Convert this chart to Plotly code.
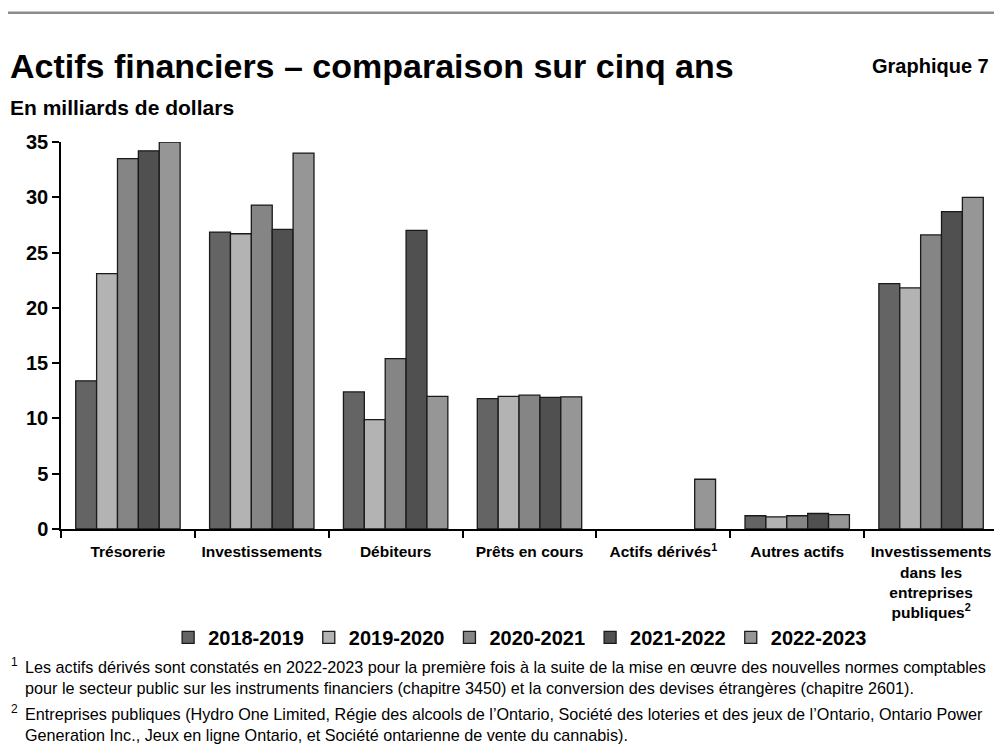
import plotly.graph_objects as go

# categories and values (billions of dollars)
categories = ["Trésorerie", "Investissements", "Débiteurs", "Prêts en cours",
              "Actifs dérivés<sup>1</sup>", "Autres actifs",
              "Investissements<br>dans les<br>entreprises<br>publiques<sup>2</sup>"]
years = ["2018-2019", "2019-2020", "2020-2021", "2021-2022", "2022-2023"]

v2018 = [13.4, 26.85, 12.4, 11.8, None, 1.2, 22.2]
v2019 = [23.1, 26.7, 9.9, 12.0, None, 1.1, 21.8]
v2020 = [33.5, 29.3, 15.4, 12.1, None, 1.2, 26.6]
v2021 = [34.2, 27.1, 27.0, 11.9, None, 1.4, 28.7]
v2022 = [35.0, 34.0, 12.0, 11.95, 4.5, 1.3, 30.0]
series = [v2018, v2019, v2020, v2021, v2022]
colors = ["#646464", "#b3b3b3", "#858585", "#505050", "#969696"]

FONT = "Liberation Sans, Arial, sans-serif"

fig = go.Figure()
for name, vals, col in zip(years, series, colors):
    fig.add_trace(go.Bar(
        x=categories, y=vals, name=name,
        marker=dict(color=col, line=dict(color="#1a1a1a", width=1.3)),
    ))

fig.update_layout(
    width=994, height=746,
    margin=dict(l=53, r=4, t=134, b=225),
    paper_bgcolor="white", plot_bgcolor="white",
    barmode="group", bargap=0.22, bargroupgap=0,
    font=dict(family=FONT, color="black"),
    showlegend=True,
    legend=dict(orientation="h", x=0.49, xanchor="center", y=-0.28, yanchor="middle",
                font=dict(size=20, family=FONT, weight="bold"),
                itemwidth=30, traceorder="normal"),
)
fig.update_xaxes(
    type="category", tickson="boundaries", ticks="outside", ticklen=7,
    tickcolor="black", tickwidth=1.5, ticklabelstandoff=8,
    showline=True, linecolor="black", linewidth=1.5,
    tickfont=dict(size=15.5, family=FONT, weight="bold"),
    range=[-0.5, 6.5],
)
fig.update_yaxes(
    range=[0, 35], dtick=5, ticks="outside", ticklen=7, tickcolor="black", tickwidth=1.5,
    showline=True, linecolor="black", linewidth=1.5, showgrid=False, zeroline=False,
    tickfont=dict(size=20, family=FONT, weight="bold"),
)

# top rule
fig.add_shape(type="line", xref="paper", yref="paper", x0=-0.06, x1=1.01,
              y0=1.334, y1=1.334, line=dict(color="#8c8c8c", width=2.5))

fig.add_annotation(text="Actifs financiers – comparaison sur cinq ans", xref="paper", yref="paper",
                   x=-0.057, y=1.196, xanchor="left", yanchor="middle", showarrow=False,
                   font=dict(size=34, family=FONT, weight="bold"))
fig.add_annotation(text="Graphique 7", xref="paper", yref="paper",
                   x=0.993, y=1.196, xanchor="right", yanchor="middle", showarrow=False,
                   font=dict(size=20, family=FONT, weight="bold"))
fig.add_annotation(text="En milliards de dollars", xref="paper", yref="paper",
                   x=-0.057, y=1.088, xanchor="left", yanchor="middle", showarrow=False,
                   font=dict(size=21, family=FONT, weight="bold"))

notes = [
    ("1", "Les actifs dérivés sont constatés en 2022-2023 pour la première fois à la suite de la mise en œuvre des nouvelles normes comptables<br>"
          "pour le secteur public sur les instruments financiers (chapitre 3450) et la conversion des devises étrangères (chapitre 2601).", 667),
    ("2", "Entreprises publiques (Hydro One Limited, Régie des alcools de l’Ontario, Société des loteries et des jeux de l’Ontario, Ontario Power<br>"
          "Generation Inc., Jeux en ligne Ontario, et Société ontarienne de vente du cannabis).", 714),
]
for num, txt, ypx in notes:
    # positions given in page pixels; plot bottom sits at page y 529, left at page x 61
    yp = (529 - ypx) / 387
    fig.add_annotation(text=num, xref="paper", yref="paper", x=(9 - 61) / 937, y=yp + 0.012,
                       xanchor="left", yanchor="middle", showarrow=False,
                       font=dict(size=12, family=FONT))
    fig.add_annotation(text=txt, xref="paper", yref="paper", x=(23 - 61) / 937, y=yp,
                       xanchor="left", yanchor="top", yshift=11, showarrow=False, align="left",
                       font=dict(size=16.2, family=FONT))

fig.write_html("out.html")
